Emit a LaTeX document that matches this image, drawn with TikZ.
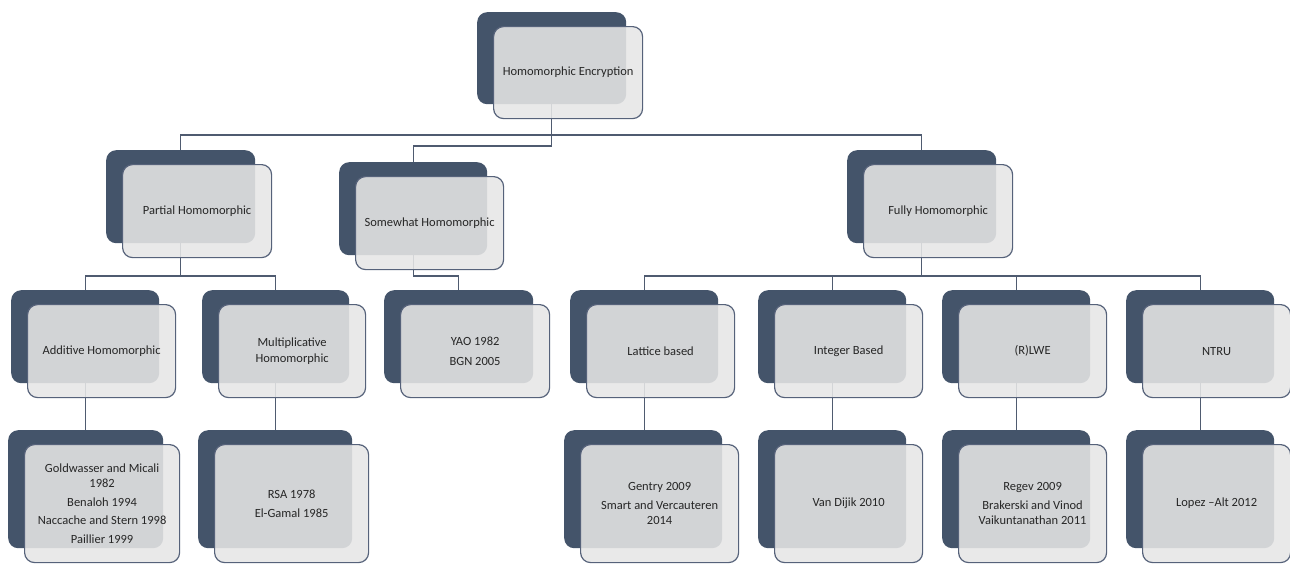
\documentclass[tikz,border=0pt]{standalone}
\usepackage{fontspec}
\setmainfont{Carlito}
\usetikzlibrary{backgrounds}
\definecolor{darkbg}{HTML}{44546A}
\definecolor{frontfill}{HTML}{E6E6E6}
\definecolor{frontline}{HTML}{56627A}
\definecolor{connc}{HTML}{4F5B70}
\definecolor{txt}{HTML}{262626}
\tikzset{
  darkbox/.style={draw=none, fill=darkbg, rounded corners=10pt, anchor=north west, inner sep=0pt},
  frontbox/.style={draw=frontline, line width=1.2pt, fill=frontfill, fill opacity=0.88,
    draw opacity=1, text opacity=1, rounded corners=10pt, anchor=north west, align=center,
    text=txt, font=\fontsize{12.5}{15.5}\selectfont, inner sep=2pt},
  conn/.style={draw=connc, line width=1.3pt},
}
\newcommand\hpair[6]{%
  \node[darkbox, minimum width=#4pt, minimum height=#5pt] (#1D) at (#2,#3) {};
  \node[frontbox, minimum width=#4pt, minimum height=#5pt] (#1F) at ([shift={(16,14)}]#1D.north west) {#6};
}
\begin{document}
\begin{tikzpicture}[x=1pt,y=-1pt]
\useasboundingbox (0,0) rectangle (1290,573);
% level 1
\hpair{top}{477}{12}{149}{92}{Homomorphic Encryption}
% level 2
\hpair{part}{106}{150}{149}{93}{Partial Homomorphic}
\hpair{some}{339}{162}{148}{93}{Somewhat Homomorphic}
\hpair{full}{847}{150}{149}{93}{Fully Homomorphic}
% level 3
\hpair{add}{11}{290}{148}{93}{Additive Homomorphic}
\hpair{mult}{202}{290}{147}{93}{Multiplicative\\Homomorphic}
\hpair{yao}{384}{290}{149}{93}{YAO 1982\\[4pt]BGN 2005}
\hpair{latt}{570}{290}{148}{93}{Lattice based}
\hpair{intg}{758}{290}{148}{93}{Integer Based}
\hpair{rlwe}{942}{290}{148}{93}{(R)LWE}
\hpair{ntru}{1126}{290}{148}{93}{NTRU}
% level 4
\hpair{gold}{8}{430}{155}{118}{Goldwasser and Micali\\1982\\[3pt]Benaloh 1994\\[3pt]Naccache and Stern 1998\\[3pt]Paillier 1999}
\hpair{rsa}{198}{430}{154}{118}{RSA 1978\\[3pt]El-Gamal 1985}
\hpair{gent}{564}{430}{158}{118}{Gentry 2009\\[3pt]Smart and Vercauteren\\2014}
\hpair{vand}{758}{430}{148}{118}{Van Dijik 2010}
\hpair{regv}{942}{430}{148}{118}{Regev 2009\\[3pt]Brakerski and Vinod\\Vaikuntanathan 2011}
\hpair{lopz}{1126}{430}{148}{118}{Lopez –Alt 2012}
\begin{pgfonlayer}{background}
\fill[white] (0,0) rectangle (1290,573);
% connectors
\draw[conn] (topD.south) |- ([yshift=15pt]partD.north) -- (partD.north);
\draw[conn] (topD.south) |- ([yshift=15pt]fullD.north) -- (fullD.north);
\draw[conn] (topD.south) |- ([yshift=16pt]someD.north) -- (someD.north);
\draw[conn] (partD.south) |- ([yshift=14pt]addD.north) -- (addD.north);
\draw[conn] (partD.south) |- ([yshift=14pt]multD.north) -- (multD.north);
\draw[conn] (someD.south) |- ([yshift=14pt]yaoD.north) -- (yaoD.north);
\draw[conn] (fullD.south) |- ([yshift=14pt]lattD.north) -- (lattD.north);
\draw[conn] (fullD.south) |- ([yshift=14pt]intgD.north) -- (intgD.north);
\draw[conn] (fullD.south) |- ([yshift=14pt]rlweD.north) -- (rlweD.north);
\draw[conn] (fullD.south) |- ([yshift=14pt]ntruD.north) -- (ntruD.north);
\draw[conn] (addD.south) -- (addD.south |- goldD.north);
\draw[conn] (multD.south) -- (multD.south |- rsaD.north);
\draw[conn] (lattD.south) -- (lattD.south |- gentD.north);
\draw[conn] (intgD.south) -- (intgD.south |- vandD.north);
\draw[conn] (rlweD.south) -- (rlweD.south |- regvD.north);
\draw[conn] (ntruD.south) -- (ntruD.south |- lopzD.north);
\end{pgfonlayer}
\end{tikzpicture}
\end{document}
